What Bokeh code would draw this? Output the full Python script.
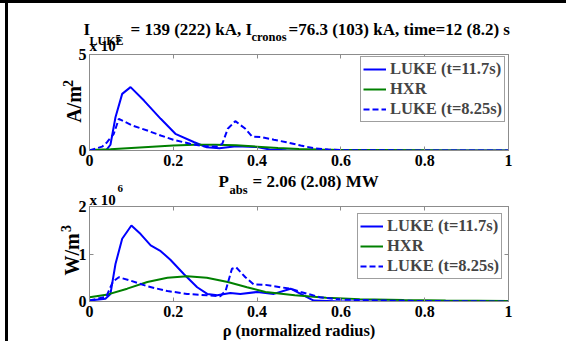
import math
from bokeh.plotting import figure
from bokeh.models import (Range1d, FixedTicker, LinearAxis, Label, Legend, LegendItem, Spacer)
from bokeh.layouts import column, row
from bokeh.embed import file_html
from bokeh.resources import INLINE

# ---------------- data (top: x1e5 A/m^2, bottom: x1e6 W/m^3) ----------------
rho_j_new = [0, 0.04, 0.05, 0.062, 0.078, 0.098, 0.13, 0.17, 0.205, 0.25, 0.28, 0.31, 0.35, 0.40, 0.43, 0.47, 0.6, 0.8, 1.0]
j_new = [0, 0.02, 0.3, 1.73, 2.95, 3.3, 2.6, 1.65, 0.87, 0.43, 0.17, 0.12, 0.22, 0.18, 0.05, 0.01, 0, 0, 0]

rho_j_old = [0, 0.03, 0.042, 0.058, 0.07, 0.102, 0.138, 0.17, 0.2, 0.24, 0.273, 0.305, 0.317, 0.33, 0.348,
             0.372, 0.388, 0.412, 0.44, 0.47, 0.504, 0.535, 0.57, 0.6, 0.8, 1.0]
j_old = [0, 0.2, 0.43, 0.87, 1.65, 1.3, 1.04, 0.78, 0.56, 0.35, 0.22, 0.21, 0.35, 1.13, 1.53,
         1.13, 0.73, 0.69, 0.56, 0.43, 0.26, 0.12, 0.05, 0.02, 0, 0]

rho_j_hxr = [0, 0.05, 0.1, 0.15, 0.2, 0.25, 0.3, 0.35, 0.4, 0.45, 0.5, 0.55, 0.6, 0.7, 0.8, 0.9, 1.0]
j_hxr = [0.02, 0.06, 0.13, 0.2, 0.26, 0.3, 0.3, 0.27, 0.2, 0.13, 0.08, 0.05, 0.03, 0.02, 0.01, 0.0, 0.0]

rho_p_new = [0, 0.038, 0.05, 0.062, 0.078, 0.1, 0.122, 0.146, 0.17, 0.193, 0.225, 0.257, 0.281, 0.305,
             0.336, 0.36, 0.4, 0.44, 0.48, 0.504, 0.535, 0.6, 0.8, 1.0]
p_new = [0.02, 0.06, 0.16, 0.79, 1.32, 1.6, 1.42, 1.18, 1.06, 0.88, 0.58, 0.3, 0.16, 0.13,
         0.18, 0.16, 0.2, 0.16, 0.27, 0.16, 0.02, 0.0, 0.0, 0.0]

rho_p_old = [0, 0.04, 0.056, 0.07, 0.098, 0.138, 0.186, 0.233, 0.28, 0.312, 0.325, 0.34, 0.35, 0.372,
             0.392, 0.42, 0.456, 0.48, 0.504, 0.55, 0.6, 0.7, 0.8, 1.0]
p_old = [0.02, 0.1, 0.42, 0.51, 0.44, 0.32, 0.22, 0.16, 0.13, 0.11, 0.23, 0.69, 0.72, 0.51,
         0.36, 0.35, 0.3, 0.27, 0.2, 0.09, 0.04, 0.02, 0.01, 0.0]

rho_p_hxr = [0, 0.04, 0.09, 0.138, 0.186, 0.233, 0.28, 0.33, 0.376, 0.42, 0.49, 0.565, 0.645, 0.75, 0.85, 1.0]
p_hxr = [0.09, 0.14, 0.27, 0.41, 0.5, 0.53, 0.5, 0.41, 0.3, 0.2, 0.13, 0.08, 0.05, 0.03, 0.02, 0.01]

x_ticks = [0, 0.2, 0.4, 0.6, 0.8, 1]
x_tick_labels = ["0", "0.2", "0.4", "0.6", "0.8", "1"]
y1_ticks = [0, 5]
y2_ticks = [0, 1, 2]
legend_labels = ["LUKE (t=11.7s)", "HXR", "LUKE (t=8.25s)"]

FONT = "Liberation Serif"
BLUE = "#0000ff"
GREEN = "#008000"
GRAY = "#8c8c8c"


def make_fig(height, top, bottom, ymax, yticks):
    p = figure(width=558, height=height, x_range=Range1d(0, 1), y_range=Range1d(0, ymax),
               output_backend="svg", toolbar_location=None,
               min_border_left=81, min_border_right=58, min_border_top=top, min_border_bottom=bottom)
    p.xgrid.visible = False
    p.ygrid.visible = False
    p.outline_line_color = GRAY
    p.background_fill_color = "white"
    p.border_fill_color = "white"
    for ax, ticks, labels in ((p.xaxis[0], x_ticks, x_tick_labels),
                              (p.yaxis[0], yticks, [str(t) for t in yticks])):
        ax.ticker = FixedTicker(ticks=ticks)
        ax.major_label_overrides = {t: l for t, l in zip(ticks, labels)}
        ax.major_tick_in = 4
        ax.major_tick_out = 0
        ax.minor_tick_line_color = None
        ax.axis_line_color = GRAY
        ax.major_tick_line_color = GRAY
        ax.major_label_text_font = FONT
        ax.major_label_text_font_style = "bold"
        ax.major_label_text_font_size = "16px"
        ax.major_label_text_color = "black"
    p.xaxis[0].major_label_standoff = 4
    p.yaxis[0].major_label_standoff = 3
    # box ticks on top and right
    for loc, ticks in (("above", x_ticks), ("right", yticks)):
        ax = LinearAxis(ticker=FixedTicker(ticks=ticks),
                        major_label_overrides={t: "" for t in ticks},
                        major_tick_in=4, major_tick_out=0, minor_tick_line_color=None,
                        axis_line_color=GRAY, major_tick_line_color=GRAY,
                        major_label_standoff=0, major_label_text_font_size="1px")
        p.add_layout(ax, loc)
    return p


def add_lines(p, xs_list, ys_list, loc):
    r1 = p.line(xs_list[0], ys_list[0], line_color=BLUE, line_width=2)
    r2 = p.line(xs_list[1], ys_list[1], line_color=GREEN, line_width=2)
    r3 = p.line(xs_list[2], ys_list[2], line_color=BLUE, line_width=2, line_dash="6 3")
    leg = Legend(items=[LegendItem(label=legend_labels[0], renderers=[r1]),
                        LegendItem(label=legend_labels[1], renderers=[r2]),
                        LegendItem(label=legend_labels[2], renderers=[r3])],
                 location=loc, padding=2, spacing=0, margin=0,
                 label_height=20, glyph_height=20, glyph_width=23, label_standoff=4,
                 label_text_font=FONT, label_text_font_style="bold", label_text_font_size="16.5px",
                 border_line_color="#404040", border_line_width=1, background_fill_alpha=1)
    p.add_layout(leg)


# ---------------- plots ----------------
p1 = make_fig(169, 51, 22, 5, y1_ticks)
add_lines(p1, [rho_j_new, rho_j_hxr, rho_j_old], [j_new, j_hxr, j_old], (271, 28))

p2 = make_fig(169, 34, 40, 2, y2_ticks)
add_lines(p2, [rho_p_new, rho_p_hxr, rho_p_old], [p_new, p_hxr, p_old], (268, 22))

# ---------------- transparent text layer over both plots ----------------
ov = figure(width=558, height=338, x_range=Range1d(0, 558), y_range=Range1d(338, 0),
            output_backend="svg", toolbar_location=None, x_axis_location=None, y_axis_location=None,
            min_border=0, min_border_left=0, min_border_right=0, min_border_top=0, min_border_bottom=0,
            background_fill_color=None, border_fill_color=None, outline_line_color=None,
            frame_align=False,
            styles={"position": "absolute", "left": "0px", "top": "0px", "pointer-events": "none"})
ov.grid.visible = False


def lab(px, py, text, size, **kw):
    # px, py: page pixels; layer origin is page (8, 3)
    kw.setdefault("text_baseline", "alphabetic")
    ov.add_layout(Label(x=px - 8, y=py - 3, text=text, text_font=FONT, text_font_style="bold",
                        text_font_size=f"{size}px", text_color="black", **kw))


lab(83, 29, "I", 17)
lab(89, 40, "LUKE", 12)
lab(130, 29, "= 139 (222) kA, I", 17)
lab(251, 36, "cronos", 12.5)
lab(288, 29, "=76.3 (103) kA,  time=12 (8.2) s", 17)
lab(89, 45, "x 10", 15)
lab(115, 38, "5", 11)
lab(73, 104, "A/m", 20, angle=math.pi / 2, text_align="center")
lab(67, 83, "2", 14, angle=math.pi / 2, text_align="center")

lab(218, 181, "P", 17)
lab(229, 189, "abs", 12.5)
lab(252, 181, "= 2.06 (2.08) MW", 17)
lab(89, 199, "x 10", 15)
lab(117, 188, "6", 11)
lab(71, 254, "W/m", 20, angle=math.pi / 2, text_align="center")
lab(65, 228, "3", 14, angle=math.pi / 2, text_align="center")
lab(298.5, 330, "ρ (normalized radius)", 16.5, text_align="center")

top_bar = Spacer(width=566, height=3, styles={"background-color": "black"})
gap = Spacer(width=5, height=338)
left_bar = Spacer(width=3, height=338, styles={"background-color": "black"})
plots = column(p1, p2, ov, spacing=0, styles={"position": "relative"})
layout = column(top_bar, row(gap, left_bar, plots, spacing=0), spacing=0)

open("out.html", "w").write(file_html(layout, INLINE))
